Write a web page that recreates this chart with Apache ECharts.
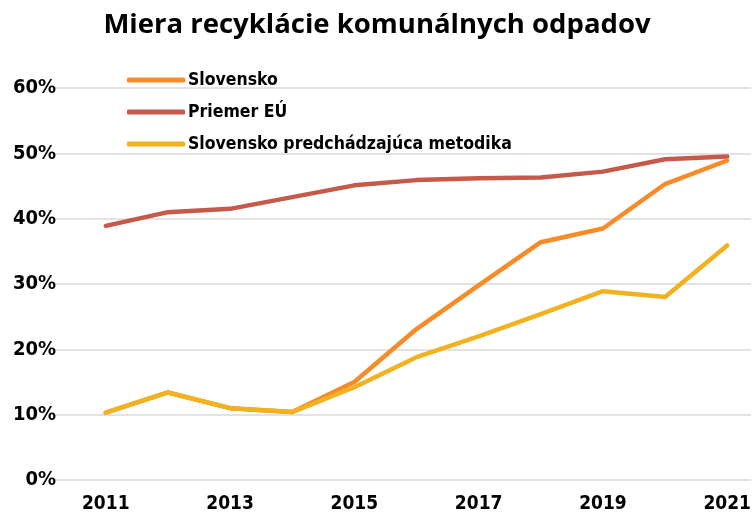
<!DOCTYPE html>
<html>
<head>
<meta charset="utf-8">
<script src="https://cdn.jsdelivr.net/npm/echarts@6/dist/echarts.min.js"></script>
<style>
  html, body { margin: 0; padding: 0; background: #fff; }
  #main { width: 754px; height: 518px; }
</style>
</head>
<body>
<div id="main"></div>
<script>
var years = [2011, 2012, 2013, 2014, 2015, 2016, 2017, 2018, 2019, 2020, 2021];
var yearLabels = [2011, 2013, 2015, 2017, 2019, 2021];
var slovensko = [10.3, 13.4, 11.0, 10.4, 15.0, 23.1, 29.8, 36.4, 38.5, 45.3, 48.9];
var priemerEU = [38.9, 41.0, 41.5, 43.3, 45.1, 45.9, 46.2, 46.3, 47.2, 49.1, 49.5];
var slovenskoOld = [10.3, 13.4, 11.0, 10.4, 14.2, 18.8, 22.0, 25.4, 28.9, 28.0, 35.9];

var condFont = '"DejaVu Sans Condensed", "DejaVu Sans", sans-serif';

function pairs(vals) {
    return years.map(function (y, i) { return [y, vals[i]]; });
}

var myChart = echarts.init(document.getElementById('main'));

function lineSeries(name, vals, color, z) {
    return {
        name: name,
        type: 'line',
        data: pairs(vals),
        showSymbol: false,
        symbol: 'none',
        z: z,
        color: color,
        lineStyle: { width: 4.5, color: color, cap: 'round', join: 'round' },
        emphasis: { disabled: true }
    };
}

var option = {
    animation: false,
    backgroundColor: '#fff',
    title: {
        text: 'Miera recyklácie komunálnych odpadov',
        left: 'center',
        top: 6,
        textStyle: {
            fontFamily: '"Open Sans", sans-serif',
            fontWeight: 'bold',
            fontSize: 27.5,
            color: '#000'
        }
    },
    legend: {
        orient: 'vertical',
        left: 122,
        top: 66,
        itemWidth: 58,
        itemHeight: 5,
        itemGap: 14,
        icon: 'roundRect',
        textStyle: {
            fontFamily: condFont,
            fontWeight: 'bold',
            fontSize: 17.5,
            color: '#000',
            padding: [0, 0, 0, -2]
        },
        data: ['Slovensko', 'Priemer EÚ', 'Slovensko predchádzajúca metodika']
    },
    grid: { left: 52, right: 0, top: 88, bottom: 38 },
    xAxis: {
        type: 'value',
        min: 2010.135,
        max: 2021.385,
        splitLine: { show: false },
        axisLine: { show: false },
        axisTick: { show: false },
        axisLabel: {
            customValues: yearLabels,
            formatter: function (v) { return String(v); },
            fontFamily: condFont,
            fontWeight: 'bold',
            fontSize: 19,
            color: '#000',
            margin: 15
        }
    },
    yAxis: {
        type: 'value',
        min: 0,
        max: 60,
        interval: 10,
        axisLine: { show: false },
        axisTick: { show: false },
        splitLine: { lineStyle: { color: '#d9d9d9', width: 1.5 } },
        axisLabel: {
            formatter: '{value}%',
            fontFamily: condFont,
            fontWeight: 'bold',
            fontSize: 20,
            color: '#000',
            margin: -4
        }
    },
    series: [
        lineSeries('Priemer EÚ', priemerEU, '#c55a4b', 2),
        lineSeries('Slovensko', slovensko, '#f68b27', 3),
        lineSeries('Slovensko predchádzajúca metodika', slovenskoOld, '#f2b11e', 4)
    ]
};

myChart.setOption(option);
</script>
</body>
</html>
